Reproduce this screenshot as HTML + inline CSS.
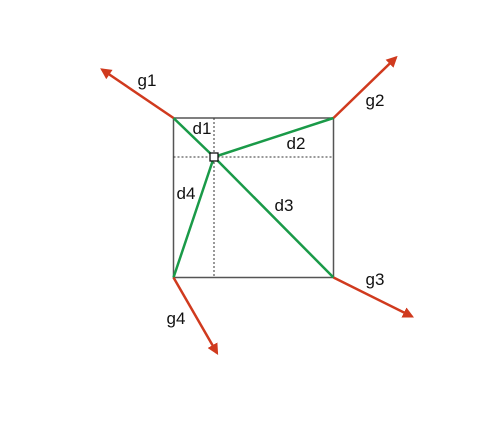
<!DOCTYPE html>
<html><head><meta charset="utf-8"><style>html,body{margin:0;padding:0;background:#fff}svg{display:block}text{font-family:"Liberation Sans",sans-serif;font-size:17px;fill:#111}</style></head>
<body>
<svg width="492" height="423" viewBox="0 0 492 423">
<defs><marker id="ah" viewBox="0 0 10 10" refX="8" refY="5" markerWidth="4.5" markerHeight="4.5" orient="auto"><path d="M0,0L10,5L0,10z" fill="#d03a1e"/></marker></defs>
<rect x="173.5" y="118" width="160" height="159.5" fill="none" stroke="#555" stroke-width="1.5"/>
<line x1="173.5" y1="157" x2="333.5" y2="157" stroke="#333" stroke-width="1" stroke-dasharray="2,2"/>
<line x1="214" y1="118" x2="214" y2="277.5" stroke="#333" stroke-width="1" stroke-dasharray="2,2"/>
<g stroke="#1a9a48" stroke-width="2.5" fill="none">
<line x1="173.5" y1="118" x2="214" y2="157"/>
<line x1="333.5" y1="118" x2="214" y2="157"/>
<line x1="333.5" y1="277.5" x2="214" y2="157"/>
<line x1="173.5" y1="277.5" x2="214" y2="157"/>
</g>
<g stroke="#d03a1e" stroke-width="2.5" marker-end="url(#ah)">
<line x1="173.5" y1="118" x2="102" y2="69.5"/>
<line x1="333.5" y1="118" x2="396" y2="57.5"/>
<line x1="333.5" y1="277.5" x2="412" y2="316.5"/>
<line x1="173.5" y1="277.5" x2="217" y2="353"/>
</g>
<rect x="210" y="153" width="8" height="8" fill="#fff" stroke="#111" stroke-width="1.3"/>
<g text-anchor="middle">
<text x="147" y="86">g1</text>
<text x="375" y="106">g2</text>
<text x="375" y="285">g3</text>
<text x="176" y="324">g4</text>
<text x="202" y="134">d1</text>
<text x="296" y="149">d2</text>
<text x="284" y="211">d3</text>
<text x="186" y="199">d4</text>
</g>
</svg>
</body></html>
